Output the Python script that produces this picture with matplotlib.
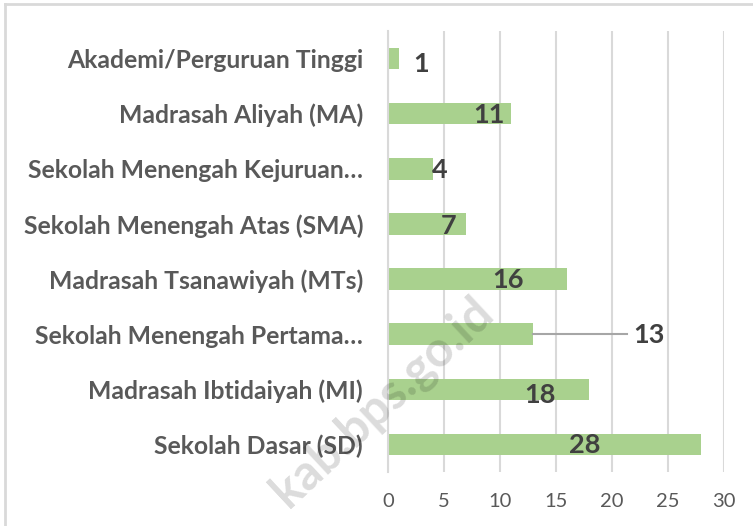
import matplotlib.pyplot as plt
from matplotlib.lines import Line2D

# data (top to bottom as shown)
kategori = ['Akademi/Perguruan Tinggi', 'Madrasah Aliyah (MA)', 'Sekolah Menengah Kejuruan…',
            'Sekolah Menengah Atas (SMA)', 'Madrasah Tsanawiyah (MTs)', 'Sekolah Menengah Pertama…',
            'Madrasah Ibtidaiyah (MI)', 'Sekolah Dasar (SD)']
jumlah = [1, 11, 4, 7, 16, 13, 18, 28]
xticks = [0, 5, 10, 15, 20, 25, 30]

# label placement relative to bar end (x, data units) and bar centre (y)
label_dx = [2.0, -2.0, 0.6, -1.55, -5.25, 10.3, -4.4, -10.4]
label_dy = [0.09, 0.02, 0.02, 0.03, 0.02, 0.01, 0.11, 0.01]

plt.rcParams['font.family'] = ['Lato', 'DejaVu Sans']

fig = plt.figure(figsize=(7.53, 5.26), dpi=100)
ax = fig.add_axes([388/753, 1-472/526, (723.7-388)/753, (472-31)/526])

ypos = list(range(len(kategori)))
ax.barh(ypos, jumlah, height=0.39, color='#a9d18e', zorder=2)
ax.set_ylim(len(kategori)-0.5, -0.5)
ax.set_xlim(0, 30)
ax.set_xticks(xticks)
ax.set_xticklabels([str(t) for t in xticks])
ax.set_yticks(ypos)
ax.set_yticklabels(kategori, fontweight='bold')

ax.grid(axis='x', color='#d9d9d9', lw=1.5, zorder=0)
ax.tick_params(axis='x', length=0, pad=15, labelsize=14.5, labelcolor='#595959')
ax.tick_params(axis='y', length=0, pad=18, labelsize=17.8, labelcolor='#595959')
for s in ['top', 'right', 'bottom']:
    ax.spines[s].set_visible(False)
ax.spines['left'].set_color('#d9d9d9')
ax.spines['left'].set_linewidth(1.5)

for i, v in enumerate(jumlah):
    lx = v + label_dx[i]
    ly = i + label_dy[i]
    if label_dx[i] > 5:
        # leader line to moved label
        ax.plot([v, lx - 1.9], [i, i], color='#a6a6a6', lw=1.5, zorder=3)
    ax.text(lx, ly, str(v), ha='center', va='center', fontsize=19.5,
            fontweight='bold', color='#404040', zorder=4)

# watermark
fig.text(382/753, 1-402/526, 'kab.bps.go.id', rotation=43, ha='center', va='center',
         fontsize=35, fontweight='bold', color='#000000', alpha=0.14, zorder=10)

# screenshot border
fig.add_artist(Line2D([5/753, 1], [1-4/526, 1-4/526], color='#d9d9d9', lw=2))
fig.add_artist(Line2D([5/753, 5/753], [0, 1-4/526], color='#d9d9d9', lw=2))

fig.savefig('out.png', dpi=100)
